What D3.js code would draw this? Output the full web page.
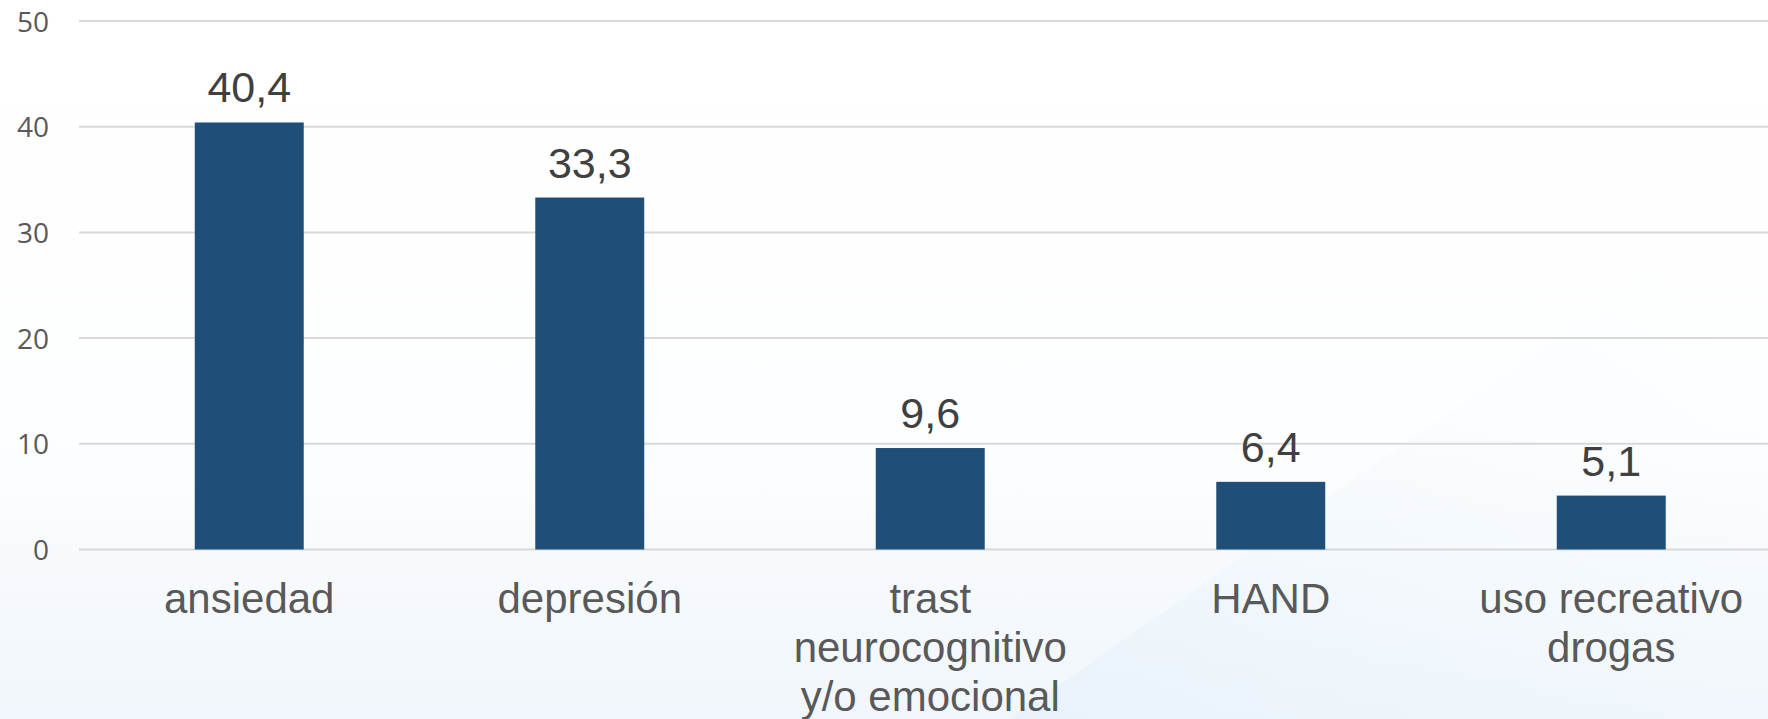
<!DOCTYPE html>
<html>
<head>
<meta charset="utf-8">
<script src="https://cdn.jsdelivr.net/npm/d3@7"></script>
<style>
html,body{margin:0;padding:0;background:#fff;}
svg{display:block;font-family:"Liberation Sans",Arial,sans-serif;}
</style>
</head>
<body>
<svg id="chart" width="1768" height="719"></svg>
<script>
const categories = ["ansiedad", "depresión", "trast neurocognitivo y/o emocional", "HAND", "uso recreativo drogas"];
const labelLines = [["ansiedad"], ["depresión"], ["trast", "neurocognitivo", "y/o emocional"], ["HAND"], ["uso recreativo", "drogas"]];
const values = [40.4, 33.3, 9.6, 6.4, 5.1];
const valueLabels = ["40,4", "33,3", "9,6", "6,4", "5,1"];
const yTicks = [0, 10, 20, 30, 40, 50];

const W = 1768, H = 719;
const svg = d3.select("#chart");

// subtle background
const defs = svg.append("defs");
const g1 = defs.append("linearGradient").attr("id","bgv").attr("x1",0).attr("y1",0).attr("x2",0).attr("y2",1);
g1.append("stop").attr("offset","0%").attr("stop-color","#ffffff");
g1.append("stop").attr("offset","60%").attr("stop-color","#fdfeff");
g1.append("stop").attr("offset","100%").attr("stop-color","#f0f6fb");
svg.append("rect").attr("width",W).attr("height",H).attr("fill","url(#bgv)");
const g2 = defs.append("linearGradient").attr("id","bgd").attr("x1",0).attr("y1",1).attr("x2",1).attr("y2",0);
g2.append("stop").attr("offset","0%").attr("stop-color","#e3f0fa").attr("stop-opacity",0.9);
g2.append("stop").attr("offset","100%").attr("stop-color","#ffffff").attr("stop-opacity",0);
svg.append("path").attr("d","M1010,719 L1768,190 L1768,719 Z").attr("fill","url(#bgd)").attr("opacity",0.7);

const x = d3.scaleBand().domain(categories).range([79, 1781.5]).paddingInner(0.68).paddingOuter(0.34);
const y = d3.scaleLinear().domain([0, 50]).range([549.5, 21]);

// gridlines
svg.append("g").selectAll("line").data(yTicks).join("line")
  .attr("x1", 79).attr("x2", W)
  .attr("y1", d => y(d)).attr("y2", d => y(d))
  .attr("stroke", "#d9d9d9").attr("stroke-width", 2);

// y axis labels
const yAxis = d3.axisLeft(y).tickValues(yTicks).tickSize(0).tickPadding(0);
const ya = svg.append("g").attr("transform","translate(49,0)").call(yAxis);
ya.select(".domain").remove();
ya.selectAll("text").attr("font-size",28).attr("fill","#595959")
  .attr("font-family","'Open Sans',sans-serif").attr("dy","0.36em");

// bars
svg.append("g").selectAll("rect").data(values).join("rect")
  .attr("x", (d,i) => x(categories[i]))
  .attr("width", x.bandwidth())
  .attr("y", d => y(d))
  .attr("height", d => y(0) - y(d))
  .attr("fill", "#1f4e79");

// value labels
svg.append("g").selectAll("text").data(values).join("text")
  .attr("x", (d,i) => x(categories[i]) + x.bandwidth()/2)
  .attr("y", d => y(d) - 20)
  .attr("text-anchor","middle")
  .attr("font-size",43).attr("fill","#404040")
  .text((d,i) => valueLabels[i]);

// category labels
const cl = svg.append("g").selectAll("text").data(categories).join("text")
  .attr("x", d => x(d) + x.bandwidth()/2)
  .attr("y", 613)
  .attr("text-anchor","middle")
  .attr("font-size",42).attr("fill","#595959");
cl.each(function(d,i){
  const t = d3.select(this);
  labelLines[i].forEach((ln,j) => {
    t.append("tspan").attr("x", x(d) + x.bandwidth()/2).attr("dy", j===0 ? 0 : 49).text(ln);
  });
});
</script>
</body>
</html>
